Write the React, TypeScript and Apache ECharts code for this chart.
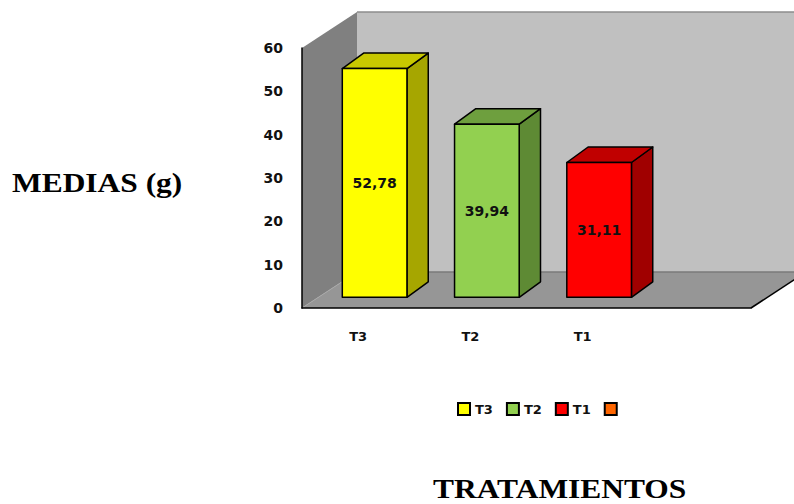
import React, { useEffect, useRef } from "react";
import * as echarts from "echarts";

// Treatment categories (the fourth slot is an empty category, as in the legend)
const categories = ["T3", "T2", "T1", ""];
const seriesNames = ["T3", "T2", "T1", " "];
// Mean weight per treatment (g)
const means = [52.78, 39.94, 31.11];

const yMin = 0;
const yMax = 60;
const yInterval = 10;

// Face colours of each 3D bar: front, side, top
const frontColors = ["#FFFF00", "#92D050", "#FF0000", "#FF6600"];
const sideColors = ["#A6A600", "#5E8A34", "#A00000", "#A04000"];
const topColors = ["#C8C800", "#6E9F3E", "#C00000", "#C05000"];

// Depth of the plot box and placement of the bars inside it
const WALL_DX = 55;
const WALL_DY = 36;
const BAR_FRONT_DX = 16.5;
const BAR_FRONT_DY = 10.7;
const BAR_DEPTH_DX = 21.3;
const BAR_DEPTH_DY = 15.5;
const BAR_RATIO = 0.576;

const SANS = '"DejaVu Sans", Verdana, sans-serif';
const SERIF = '"Liberation Serif", "Times New Roman", serif';

function formatValue(v: number): string {
  return v.toFixed(2).replace(".", ",");
}

function renderWalls(params: any) {
  const cs = params.coordSys;
  const x0 = cs.x;
  const x1 = cs.x + cs.width;
  const y0 = cs.y;
  const y1 = cs.y + cs.height;
  const far = x1 + WALL_DX + 60;
  return {
    type: "group",
    children: [
      {
        type: "polygon",
        shape: {
          points: [
            [x0 + WALL_DX, y0 - WALL_DY],
            [far, y0 - WALL_DY],
            [far, y1 - WALL_DY],
            [x0 + WALL_DX, y1 - WALL_DY],
          ],
        },
        style: { fill: "#C0C0C0" },
      },
      {
        type: "line",
        shape: { x1: x0 + WALL_DX, y1: y0 - WALL_DY, x2: far, y2: y0 - WALL_DY },
        style: { stroke: "#8C8C8C", lineWidth: 1.5 },
      },
      {
        type: "polygon",
        shape: {
          points: [
            [x0, y0],
            [x0 + WALL_DX, y0 - WALL_DY],
            [x0 + WALL_DX, y1 - WALL_DY],
            [x0, y1],
          ],
        },
        style: { fill: "#808080" },
      },
      {
        type: "polygon",
        shape: {
          points: [
            [x0, y1],
            [x0 + WALL_DX, y1 - WALL_DY],
            [x1 + WALL_DX, y1 - WALL_DY],
            [x1, y1],
          ],
        },
        style: { fill: "#969696" },
      },
      {
        type: "line",
        shape: { x1: x0 + WALL_DX, y1: y1 - WALL_DY, x2: far, y2: y1 - WALL_DY },
        style: { stroke: "#7A7A7A", lineWidth: 1.5 },
      },
      {
        type: "line",
        shape: { x1: x0, y1: y1, x2: x0 + WALL_DX, y2: y1 - WALL_DY },
        style: { stroke: "#A8A8A8", lineWidth: 1 },
      },
      {
        type: "line",
        shape: { x1: x1, y1: y1, x2: x1 + WALL_DX, y2: y1 - WALL_DY },
        style: { stroke: "#000", lineWidth: 1.5 },
      },
    ],
  };
}

function makeBarRenderer(idx: number) {
  return (_params: any, api: any) => {
    const cat = api.value(0);
    const val = api.value(1);
    const base = api.coord([cat, 0]);
    const top = api.coord([cat, val]);
    const band = api.size([1, 0])[0];
    const w = band * BAR_RATIO;
    const cx = base[0] + BAR_FRONT_DX;
    const yb = base[1] - BAR_FRONT_DY;
    const yt = top[1] - BAR_FRONT_DY;
    const xl = cx - w / 2;
    const xr = cx + w / 2;
    const edge = { stroke: "#000", lineWidth: 1.5, lineJoin: "round" };
    return {
      type: "group",
      children: [
        {
          type: "polygon",
          shape: {
            points: [
              [xr, yt],
              [xr + BAR_DEPTH_DX, yt - BAR_DEPTH_DY],
              [xr + BAR_DEPTH_DX, yb - BAR_DEPTH_DY],
              [xr, yb],
            ],
          },
          style: { fill: sideColors[idx], ...edge },
        },
        {
          type: "polygon",
          shape: {
            points: [
              [xl, yt],
              [xl + BAR_DEPTH_DX, yt - BAR_DEPTH_DY],
              [xr + BAR_DEPTH_DX, yt - BAR_DEPTH_DY],
              [xr, yt],
            ],
          },
          style: { fill: topColors[idx], ...edge },
        },
        {
          type: "polygon",
          shape: {
            points: [
              [xl, yt],
              [xr, yt],
              [xr, yb],
              [xl, yb],
            ],
          },
          style: { fill: frontColors[idx], ...edge },
        },
        {
          type: "text",
          x: cx,
          y: (yt + yb) / 2,
          style: {
            text: formatValue(val),
            fill: "#111",
            font: `bold 14px ${SANS}`,
            align: "center",
            verticalAlign: "middle",
          },
        },
      ],
    };
  };
}

export default function App() {
  const ref = useRef<HTMLDivElement>(null);

  useEffect(() => {
    if (!ref.current) return;
    const chart = echarts.init(ref.current, null, { renderer: "svg" });

    const barSeries = seriesNames.map((name, i) => ({
      type: "custom",
      name,
      z: 3,
      clip: false,
      itemStyle: { color: frontColors[i], borderColor: "#000", borderWidth: 2 },
      renderItem: makeBarRenderer(i),
      data: i < means.length ? [[i, means[i]]] : [],
    }));

    chart.setOption({
      animation: false,
      backgroundColor: "#fff",
      grid: { left: 302, right: 43, top: 48, bottom: 196, containLabel: false },
      xAxis: {
        type: "category",
        data: categories,
        z: 10,
        axisLine: { show: true, lineStyle: { color: "#000", width: 1.5 } },
        axisTick: { show: false },
        axisLabel: {
          margin: 22,
          color: "#111",
          fontWeight: "bold",
          fontSize: 13,
          fontFamily: SANS,
        },
        splitLine: { show: false },
      },
      yAxis: {
        type: "value",
        min: yMin,
        max: yMax,
        interval: yInterval,
        z: 10,
        axisLine: { show: true, lineStyle: { color: "#000", width: 1.5 } },
        axisTick: { show: false },
        axisLabel: {
          margin: 19,
          color: "#111",
          fontWeight: "bold",
          fontSize: 14,
          fontFamily: SANS,
        },
        splitLine: { show: false },
      },
      legend: {
        data: seriesNames,
        left: 457,
        top: 402,
        padding: 0,
        icon: "rect",
        itemWidth: 12,
        itemHeight: 12,
        itemGap: 13,
        itemStyle: { borderColor: "#000", borderWidth: 2 },
        textStyle: {
          color: "#111",
          fontWeight: "bold",
          fontSize: 13,
          fontFamily: SANS,
        },
        selectedMode: false,
      },
      graphic: [
        {
          type: "text",
          x: 12,
          y: 183,
          scaleX: 1.165,
          style: {
            text: "MEDIAS (g)",
            font: `bold 27px ${SERIF}`,
            fill: "#000",
            align: "left",
            verticalAlign: "middle",
          },
        },
        {
          type: "text",
          x: 433,
          y: 489,
          scaleX: 1.165,
          style: {
            text: "TRATAMIENTOS",
            font: `bold 27px ${SERIF}`,
            fill: "#000",
            align: "left",
            verticalAlign: "middle",
          },
        },
      ],
      series: [
        {
          type: "custom",
          name: "walls",
          z: 1,
          clip: false,
          silent: true,
          renderItem: renderWalls,
          data: [[0, 0]],
        },
        ...barSeries,
      ],
    });

    return () => chart.dispose();
  }, []);

  return (
    <div
      ref={ref}
      style={{ position: "absolute", left: 0, top: 0, width: 794, height: 504 }}
    />
  );
}
